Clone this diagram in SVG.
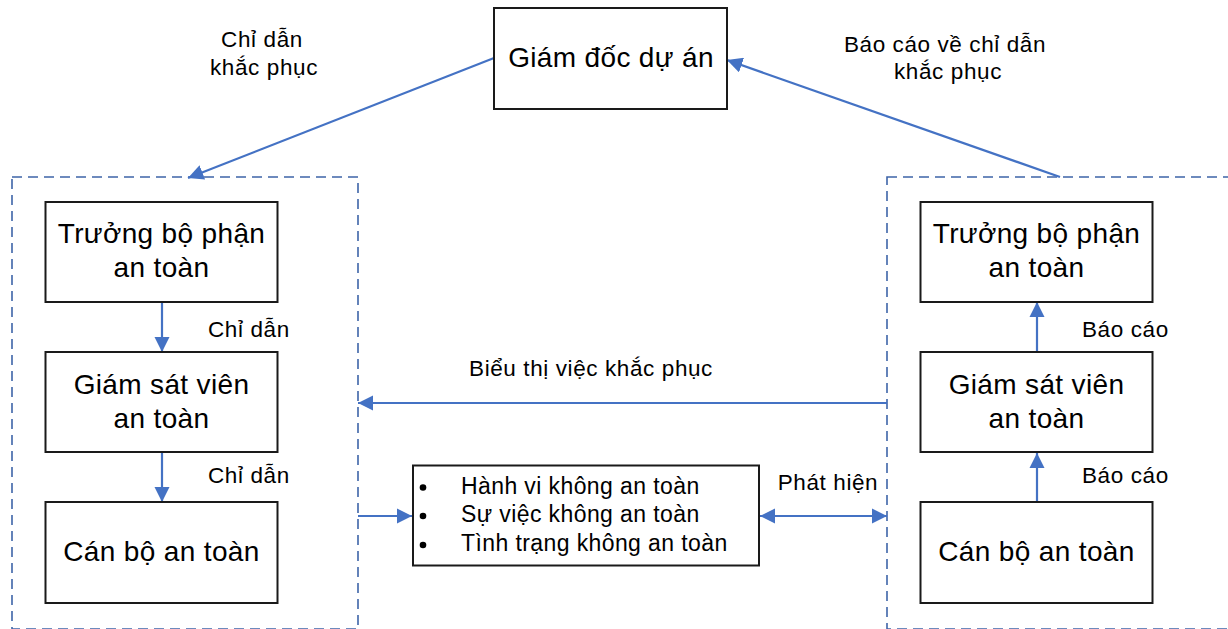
<svg xmlns="http://www.w3.org/2000/svg" width="1228" height="629" viewBox="0 0 1228 629">
  <style>
    .node { fill: #ffffff; stroke: #1a1a1a; stroke-width: 2; }
    .group { fill: none; stroke: #3e64a8; stroke-width: 1.6; stroke-dasharray: 10 6; }
    .link { fill: none; stroke: #4472c4; stroke-width: 2.2; }
    .t { font-family: "Liberation Sans", Arial, sans-serif; fill: #000000; }
    .big { font-size: 28px; letter-spacing: 0.35px; }
    .lbl { font-size: 22.5px; letter-spacing: 0.6px; }
    .item { font-size: 23px; letter-spacing: 0.4px; }
  </style>
  <defs>
    <marker id="arrow" viewBox="0 0 10 10" refX="10" refY="5" markerWidth="7" markerHeight="7" markerUnits="strokeWidth" orient="auto-start-reverse">
      <path d="M0,0 L10,5 L0,10 Z" fill="#4472c4"/>
    </marker>
  </defs>

  <!-- dashed department groups -->
  <g id="group-left">
    <rect class="group" x="12" y="177" width="346" height="452"/>
  </g>
  <g id="group-right">
    <rect class="group" x="887" y="177" width="360" height="452"/>
  </g>

  <!-- connectors -->
  <g id="connectors">
    <line class="link" x1="494" y1="58" x2="188" y2="178" marker-end="url(#arrow)"/>
    <line class="link" x1="1060" y1="177" x2="727" y2="60" marker-end="url(#arrow)"/>
    <line class="link" x1="162" y1="303" x2="162" y2="352" marker-end="url(#arrow)"/>
    <line class="link" x1="162" y1="453" x2="162" y2="502" marker-end="url(#arrow)"/>
    <line class="link" x1="1037" y1="352" x2="1037" y2="302" marker-end="url(#arrow)"/>
    <line class="link" x1="1037" y1="502" x2="1037" y2="453" marker-end="url(#arrow)"/>
    <line class="link" x1="887" y1="403" x2="358" y2="403" marker-end="url(#arrow)"/>
    <line class="link" x1="358" y1="516" x2="412" y2="516" marker-end="url(#arrow)"/>
    <line class="link" x1="760" y1="516" x2="887" y2="516" marker-start="url(#arrow)" marker-end="url(#arrow)"/>
  </g>

  <!-- connector labels -->
  <g id="labels" class="t lbl">
    <text x="262" y="47" text-anchor="middle">Chỉ dẫn</text>
    <text x="264" y="75" text-anchor="middle">khắc phục</text>
    <text x="945" y="52" text-anchor="middle">Báo cáo về chỉ dẫn</text>
    <text x="948" y="79" text-anchor="middle">khắc phục</text>
    <text x="208" y="337">Chỉ dẫn</text>
    <text x="208" y="483">Chỉ dẫn</text>
    <text x="1082" y="337">Báo cáo</text>
    <text x="1082" y="483">Báo cáo</text>
    <text x="591" y="376" text-anchor="middle">Biểu thị việc khắc phục</text>
    <text x="828" y="490" text-anchor="middle">Phát hiện</text>
  </g>

  <g id="node-director">
    <rect class="node" x="494" y="8" width="233" height="101"/>
    <text class="t big" x="611" y="67" text-anchor="middle">Giám đốc dự án</text>
  </g>

  <g id="node-left-head">
    <rect class="node" x="45.5" y="202" width="232" height="100"/>
    <text class="t big" x="161.5" y="243" text-anchor="middle">Trưởng bộ phận</text>
    <text class="t big" x="161.5" y="277" text-anchor="middle">an toàn</text>
  </g>
  <g id="node-left-supervisor">
    <rect class="node" x="45.5" y="352" width="232" height="100"/>
    <text class="t big" x="161.5" y="394" text-anchor="middle">Giám sát viên</text>
    <text class="t big" x="161.5" y="428" text-anchor="middle">an toàn</text>
  </g>
  <g id="node-left-officer">
    <rect class="node" x="45.5" y="502" width="232" height="101"/>
    <text class="t big" x="161.5" y="561" text-anchor="middle">Cán bộ an toàn</text>
  </g>

  <g id="node-right-head">
    <rect class="node" x="920.5" y="202" width="232" height="100"/>
    <text class="t big" x="1036.5" y="243" text-anchor="middle">Trưởng bộ phận</text>
    <text class="t big" x="1036.5" y="277" text-anchor="middle">an toàn</text>
  </g>
  <g id="node-right-supervisor">
    <rect class="node" x="920.5" y="352" width="232" height="100"/>
    <text class="t big" x="1036.5" y="394" text-anchor="middle">Giám sát viên</text>
    <text class="t big" x="1036.5" y="428" text-anchor="middle">an toàn</text>
  </g>
  <g id="node-right-officer">
    <rect class="node" x="920.5" y="502" width="232" height="101"/>
    <text class="t big" x="1036.5" y="561" text-anchor="middle">Cán bộ an toàn</text>
  </g>

  <g id="node-hazards">
    <rect class="node" x="413" y="465.5" width="346" height="100"/>
    <circle cx="423" cy="487.5" r="3.3" fill="#000"/>
    <circle cx="423" cy="516" r="3.3" fill="#000"/>
    <circle cx="423" cy="545" r="3.3" fill="#000"/>
    <text class="t item" x="461" y="494">Hành vi không an toàn</text>
    <text class="t item" x="461" y="522">Sự việc không an toàn</text>
    <text class="t item" x="461" y="551">Tình trạng không an toàn</text>
  </g>
</svg>
